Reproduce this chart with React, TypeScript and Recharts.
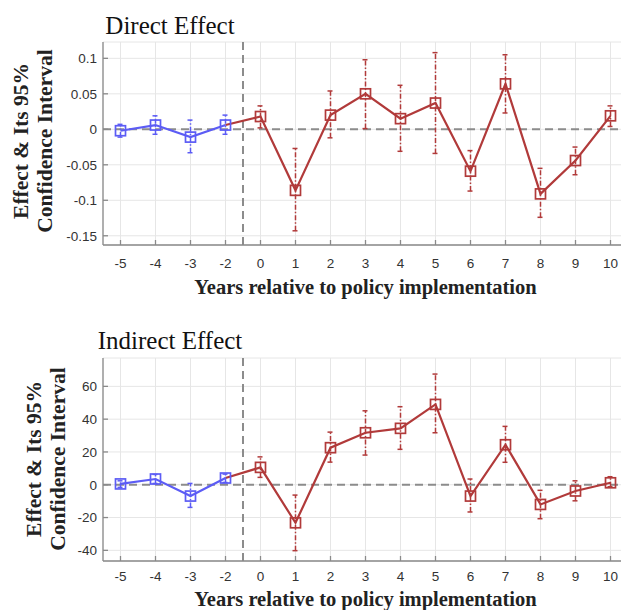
// Direct / indirect effect event-study panels
import { LineChart, Line, XAxis, YAxis, CartesianGrid, ReferenceLine, ErrorBar } from 'recharts';

const yearLabels = ['-5', '-4', '-3', '-2', '0', '1', '2', '3', '4', '5', '6', '7', '8', '9', '10'];
const PRE_COUNT = 4; // -5..-2 are pre-policy years

const directEst = [-0.002, 0.006, -0.011, 0.006, 0.018, -0.086, 0.02, 0.05, 0.015, 0.037, -0.059, 0.064, -0.091, -0.044, 0.019];
const directLo = [-0.011, -0.007, -0.033, -0.007, 0.002, -0.143, -0.012, 0.001, -0.031, -0.034, -0.087, 0.023, -0.124, -0.064, 0.004];
const directHi = [0.007, 0.019, 0.013, 0.02, 0.033, -0.027, 0.054, 0.098, 0.062, 0.108, -0.03, 0.105, -0.055, -0.025, 0.033];
const directTicks = [-0.15, -0.1, -0.05, 0, 0.05, 0.1];

const indirectEst = [0.5, 3.5, -6.9, 4.1, 10.6, -23.2, 22.6, 31.7, 34.4, 49.0, -6.9, 24.4, -12.0, -3.8, 1.2];
const indirectLo = [-1.6, 0.8, -13.8, 1.4, 4.5, -40.2, 13.8, 18.1, 21.6, 31.7, -16.6, 13.7, -20.7, -9.8, -1.2];
const indirectHi = [2.4, 6.3, 0.8, 6.5, 17.0, -6.3, 32.1, 45.1, 47.6, 67.5, 3.5, 35.6, -3.4, 2.4, 4.9];
const indirectTicks = [-40, -20, 0, 20, 40, 60];

const xTicks = yearLabels.map((_, i) => i);

const BLUE = '#5c5cf5';
const RED = '#b13a3a';
const AXIS = '#8a8a8a';
const GRID = '#e6e6e6';
const TICK_FONT = { fill: '#333', fontSize: 13.5, fontFamily: 'Liberation Sans, Arial, sans-serif' };

function buildRows(est: number[], lo: number[], hi: number[]) {
  return yearLabels.map((_, i) => {
    const row: any = { idx: i };
    const err = [est[i] - lo[i], hi[i] - est[i]];
    if (i < PRE_COUNT) {
      row.pre = est[i];
      row.preErr = err;
    }
    if (i >= PRE_COUNT - 1) row.postLine = est[i];
    if (i >= PRE_COUNT) {
      row.post = est[i];
      row.postErr = err;
    }
    return row;
  });
}

const squareDot = (color: string) => (props: any) => {
  const { cx, cy, index, value } = props;
  if (value == null || cy == null || Number.isNaN(cy)) return <g key={`d-${index}`} />;
  return (
    <rect key={`d-${index}`} x={cx - 5} y={cy - 5} width={10} height={10} fill="none" stroke={color} strokeWidth={1.7} />
  );
};

type PanelProps = {
  top: number;
  height: number;
  marginTop: number;
  est: number[];
  lo: number[];
  hi: number[];
  domain: [number, number];
  ticks: number[];
  labelGap: number;
};

function Panel({ top, height, marginTop, est, lo, hi, domain, ticks, labelGap }: PanelProps) {
  const rows = buildRows(est, lo, hi);
  return (
    <div style={{ position: 'absolute', left: 0, top }}>
      <LineChart width={640} height={height} data={rows} margin={{ top: marginTop, right: 12, left: 0, bottom: 0 }}>
        <CartesianGrid stroke={GRID} strokeWidth={1} />
        <XAxis
          dataKey="idx"
          type="number"
          domain={[-0.5, 14.5]}
          ticks={xTicks}
          allowDataOverflow
          height={30}
          tickSize={-5}
          tickMargin={labelGap}
          tickFormatter={(v) => yearLabels[v] ?? ''}
          tick={TICK_FONT}
          stroke={AXIS}
          axisLine={{ stroke: AXIS, strokeWidth: 1.3 }}
          tickLine={{ stroke: AXIS, strokeWidth: 1.3 }}
        />
        <XAxis
          xAxisId="top"
          orientation="top"
          dataKey="idx"
          type="number"
          domain={[-0.5, 14.5]}
          ticks={xTicks}
          allowDataOverflow
          height={0}
          tickSize={-5}
          tickFormatter={() => ''}
          axisLine={{ stroke: AXIS, strokeWidth: 1.3 }}
          tickLine={{ stroke: AXIS, strokeWidth: 1.3 }}
        />
        <YAxis
          type="number"
          domain={domain}
          ticks={ticks}
          allowDataOverflow
          width={103}
          tickSize={-5}
          tickMargin={11}
          tick={TICK_FONT}
          tickFormatter={(v) => String(v)}
          axisLine={{ stroke: AXIS, strokeWidth: 1.3 }}
          tickLine={{ stroke: AXIS, strokeWidth: 1.3 }}
        />
        <ReferenceLine y={0} stroke="#8c8c8c" strokeWidth={2} strokeDasharray="8 5" />
        <ReferenceLine x={3.5} stroke="#8c8c8c" strokeWidth={2} strokeDasharray="8 5" />

        <Line dataKey="postLine" stroke={RED} strokeWidth={2.2} dot={false} isAnimationActive={false} />
        <Line dataKey="pre" stroke={BLUE} strokeWidth={2.2} dot={squareDot(BLUE)} isAnimationActive={false}>
          <ErrorBar dataKey="preErr" direction="y" width={3} stroke={BLUE} strokeWidth={1.5} strokeDasharray="5 2 1.5 2" />
        </Line>
        <Line dataKey="post" stroke="none" dot={squareDot(RED)} isAnimationActive={false}>
          <ErrorBar dataKey="postErr" direction="y" width={3} stroke={RED} strokeWidth={1.5} strokeDasharray="5 2 1.5 2" />
        </Line>
      </LineChart>
    </div>
  );
}

function Texts() {
  const serif = 'Liberation Serif, Times New Roman, serif';
  return (
    <svg width={621} height={610} style={{ position: 'absolute', left: 0, top: 0, pointerEvents: 'none' }}>
      <text x={170} y={34} textAnchor="middle" fontFamily={serif} fontSize={25} fill="#111">Direct Effect</text>
      <text x={170} y={349} textAnchor="middle" fontFamily={serif} fontSize={25} fill="#111">Indirect Effect</text>

      <text x={365.5} y={294} textAnchor="middle" fontFamily={serif} fontWeight="bold" fontSize={20.5} fill="#222">
        Years relative to policy implementation
      </text>
      <text x={365.5} y={606} textAnchor="middle" fontFamily={serif} fontWeight="bold" fontSize={20.5} fill="#222">
        Years relative to policy implementation
      </text>

      <g fontFamily={serif} fontWeight="bold" fontSize={21.5} fill="#222" textAnchor="middle">
        <text transform="translate(28,141) rotate(-90)">Effect &amp; Its 95%</text>
        <text transform="translate(52,141) rotate(-90)">Confidence Interval</text>
        <text transform="translate(41,459) rotate(-90)">Effect &amp; Its 95%</text>
        <text transform="translate(65,459) rotate(-90)">Confidence Interval</text>
      </g>
    </svg>
  );
}

export default function App() {
  return (
    <div style={{ position: 'fixed', left: 0, top: 0, width: 621, height: 610, overflow: 'hidden', background: '#fff' }}>
      <Panel
        top={0}
        height={275}
        marginTop={42}
        est={directEst}
        lo={directLo}
        hi={directHi}
        domain={[-0.163, 0.123]}
        ticks={directTicks}
        labelGap={18}
      />
      <Panel
        top={300}
        height={291}
        marginTop={58}
        est={indirectEst}
        lo={indirectLo}
        hi={indirectHi}
        domain={[-46.5, 77.3]}
        ticks={indirectTicks}
        labelGap={15}
      />
      <Texts />
    </div>
  );
}
